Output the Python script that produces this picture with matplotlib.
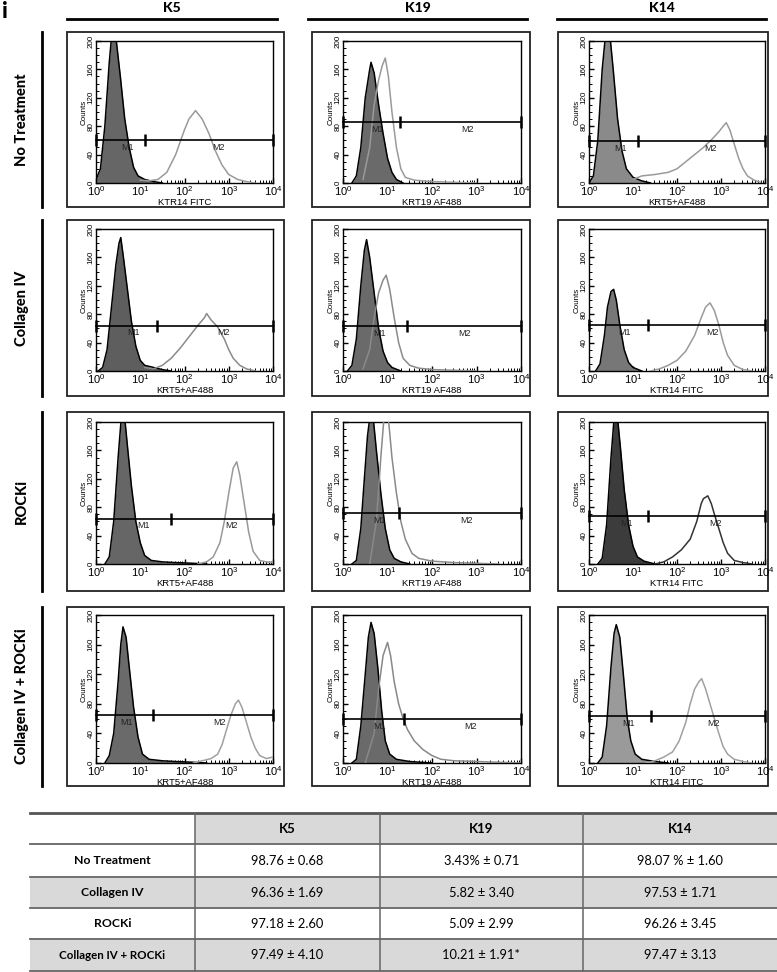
import matplotlib
matplotlib.use("Agg")
import matplotlib.pyplot as plt
import numpy as np
from matplotlib.patches import Rectangle
from matplotlib.ticker import FixedLocator, NullFormatter, LogLocator

plt.rcParams["mathtext.fontset"] = "custom"
plt.rcParams["mathtext.rm"] = "Liberation Sans"
plt.rcParams["mathtext.it"] = "Liberation Sans"

# ---------------- data ----------------
col_titles = ["K5", "K19", "K14"]
row_titles = ["No Treatment", "Collagen IV", "ROCKi", "Collagen IV + ROCKi"]
x_labels = [["KTR14 FITC", "KRT19 AF488", "KRT5+AF488"],
            ["KRT5+AF488", "KRT19 AF488", "KTR14 FITC"],
            ["KRT5+AF488", "KRT19 AF488", "KTR14 FITC"],
            ["KRT5+AF488", "KRT19 AF488", "KTR14 FITC"]]

# gate level (counts), end of M1 (log10), label positions (log10)
gate_level = [[60, 86, 59], [64, 63, 65], [64, 72, 68], [65, 59, 64]]
gate_m1_end = [[1.10, 1.29, 1.11], [1.38, 1.44, 1.34], [1.69, 1.26, 1.35], [1.28, 1.36, 1.40]]
label_m1 = [[0.72, 0.77, 0.72], [0.84, 0.83, 0.80], [1.07, 0.83, 0.85], [0.70, 0.82, 0.90]]
label_m2 = [[2.76, 2.80, 2.77], [2.88, 2.74, 2.80], [3.07, 2.78, 2.87], [2.78, 2.87, 2.83]]

# isotype (filled) histograms: log10 intensity, counts
iso_nt_k5_x = [0, 0.1, 0.2, 0.3, 0.35, 0.45, 0.55, 0.65, 0.75, 0.85, 0.95, 1.1, 1.3, 1.5]
iso_nt_k5_y = [5, 20, 80, 170, 205, 205, 150, 90, 50, 22, 10, 5, 2, 0]
iso_nt_k19_x = [0.2, 0.3, 0.4, 0.5, 0.6, 0.63, 0.7, 0.8, 0.9, 1.0, 1.1, 1.2, 1.35]
iso_nt_k19_y = [0, 10, 50, 120, 160, 170, 155, 110, 70, 35, 15, 5, 0]
iso_nt_k14_x = [0, 0.1, 0.2, 0.3, 0.37, 0.48, 0.55, 0.65, 0.75, 0.85, 1.0, 1.2, 1.4]
iso_nt_k14_y = [0, 10, 60, 160, 205, 205, 160, 90, 45, 20, 8, 3, 0]
iso_col_k5_x = [0.05, 0.15, 0.25, 0.35, 0.45, 0.52, 0.56, 0.62, 0.7, 0.8, 0.9, 1.0, 1.1, 1.3, 1.5, 1.7]
iso_col_k5_y = [0, 5, 30, 90, 150, 180, 188, 160, 120, 70, 35, 15, 8, 5, 2, 0]
iso_col_k19_x = [0.1, 0.2, 0.3, 0.4, 0.48, 0.53, 0.6, 0.7, 0.8, 0.9, 1.0, 1.1, 1.3]
iso_col_k19_y = [0, 8, 45, 120, 170, 185, 160, 110, 60, 28, 12, 5, 0]
iso_col_k14_x = [0.15, 0.25, 0.35, 0.42, 0.5, 0.56, 0.62, 0.7, 0.8, 0.9, 1.0, 1.2]
iso_col_k14_y = [0, 10, 50, 90, 112, 115, 100, 65, 30, 12, 5, 0]
iso_rock_k5_x = [0.2, 0.3, 0.4, 0.5, 0.57, 0.65, 0.72, 0.8, 0.9, 1.0, 1.1, 1.25, 1.5, 1.8, 2.2, 2.5]
iso_rock_k5_y = [0, 10, 60, 150, 205, 205, 160, 110, 60, 30, 12, 5, 3, 2, 1, 0]
iso_rock_k19_x = [0.2, 0.3, 0.4, 0.48, 0.55, 0.6, 0.68, 0.75, 0.85, 0.95, 1.05, 1.15, 1.3, 1.5]
iso_rock_k19_y = [0, 5, 50, 120, 180, 205, 205, 160, 100, 50, 20, 8, 3, 0]
iso_rock_k14_x = [0.2, 0.3, 0.4, 0.5, 0.57, 0.65, 0.72, 0.8, 0.9, 1.0, 1.1, 1.25, 1.5]
iso_rock_k14_y = [0, 8, 55, 150, 205, 205, 160, 105, 55, 25, 10, 4, 0]
iso_both_k5_x = [0.2, 0.3, 0.4, 0.5, 0.56, 0.61, 0.68, 0.75, 0.85, 0.95, 1.05, 1.2, 1.5, 1.8, 2.2, 2.5]
iso_both_k5_y = [0, 10, 40, 110, 160, 184, 170, 130, 75, 35, 12, 5, 3, 2, 1, 0]
iso_both_k19_x = [0.2, 0.3, 0.4, 0.5, 0.57, 0.63, 0.7, 0.78, 0.87, 0.95, 1.05, 1.2, 1.5, 2.0]
iso_both_k19_y = [0, 5, 50, 120, 170, 190, 175, 130, 70, 30, 12, 5, 2, 0]
iso_both_k14_x = [0.2, 0.3, 0.4, 0.5, 0.57, 0.62, 0.7, 0.78, 0.87, 0.95, 1.05, 1.2, 1.5, 1.8]
iso_both_k14_y = [0, 8, 50, 130, 175, 187, 170, 120, 60, 30, 12, 5, 2, 0]

# stained (open) histograms
stn_nt_k5_x = [1.0, 1.2, 1.4, 1.6, 1.8, 2.0, 2.1, 2.25, 2.4, 2.55, 2.7, 2.85, 3.0, 3.2, 3.4, 3.6]
stn_nt_k5_y = [4, 3, 5, 15, 40, 75, 90, 102, 90, 70, 45, 25, 12, 5, 2, 0]
stn_nt_k19_x = [0.45, 0.6, 0.7, 0.8, 0.88, 0.95, 1.02, 1.1, 1.2, 1.3, 1.4, 1.6, 2.0, 2.5, 3.0]
stn_nt_k19_y = [5, 50, 110, 145, 165, 176, 150, 100, 50, 20, 8, 4, 2, 1, 0]
stn_nt_k14_x = [1.0, 1.2, 1.5, 1.8, 2.0, 2.2, 2.4, 2.6, 2.8, 2.95, 3.05, 3.12, 3.2, 3.3, 3.4, 3.5, 3.6, 3.75, 3.9]
stn_nt_k14_y = [5, 10, 12, 15, 20, 30, 40, 50, 62, 72, 80, 85, 75, 55, 35, 20, 10, 4, 1]
stn_col_k5_x = [1.1, 1.3, 1.5, 1.7, 1.9, 2.1, 2.3, 2.45, 2.5, 2.6, 2.75, 2.9, 3.0, 3.1, 3.25, 3.4, 3.6]
stn_col_k5_y = [5, 3, 8, 18, 32, 48, 64, 75, 81, 72, 62, 45, 30, 18, 8, 3, 0]
stn_col_k19_x = [0.45, 0.6, 0.7, 0.8, 0.9, 0.97, 1.05, 1.15, 1.25, 1.35, 1.5, 1.7, 2.0, 2.5, 3.0]
stn_col_k19_y = [3, 30, 75, 110, 128, 135, 115, 75, 40, 18, 8, 4, 2, 1, 0]
stn_col_k14_x = [1.4, 1.6, 1.8, 2.0, 2.2, 2.4, 2.55, 2.65, 2.75, 2.85, 2.95, 3.05, 3.15, 3.3, 3.5, 3.7]
stn_col_k14_y = [0, 3, 8, 15, 28, 50, 75, 90, 96, 85, 65, 40, 22, 8, 2, 0]
stn_rock_k5_x = [2.3, 2.5, 2.65, 2.8, 2.9, 3.0, 3.1, 3.18, 3.25, 3.35, 3.45, 3.55, 3.7, 3.85, 4.0]
stn_rock_k5_y = [0, 3, 10, 30, 60, 100, 135, 144, 125, 85, 45, 18, 5, 3, 2]
stn_rock_k19_x = [0.6, 0.75, 0.85, 0.92, 1.02, 1.1, 1.2, 1.3, 1.4, 1.55, 1.7, 2.0, 2.5, 3.0, 3.5]
stn_rock_k19_y = [0, 60, 150, 205, 205, 150, 100, 60, 35, 15, 8, 4, 2, 1, 0]
stn_rock_k14_x = [1.5, 1.7, 1.9, 2.1, 2.3, 2.45, 2.55, 2.6, 2.7, 2.78, 2.85, 2.95, 3.05, 3.15, 3.3, 3.5, 3.7]
stn_rock_k14_y = [0, 3, 10, 20, 35, 60, 85, 92, 96, 85, 70, 50, 30, 15, 5, 2, 0]
stn_both_k5_x = [2.2, 2.4, 2.6, 2.75, 2.85, 2.95, 3.05, 3.15, 3.22, 3.3, 3.4, 3.5, 3.6, 3.7, 3.85, 4.0]
stn_both_k5_y = [0, 3, 6, 12, 25, 45, 65, 80, 85, 75, 55, 35, 20, 10, 6, 8]
stn_both_k19_x = [0.5, 0.7, 0.8, 0.9, 1.0, 1.07, 1.15, 1.25, 1.35, 1.45, 1.6, 1.8, 2.0, 2.2, 2.5, 3.0, 3.5, 4.0]
stn_both_k19_y = [0, 40, 100, 145, 163, 145, 110, 80, 60, 45, 30, 18, 10, 5, 3, 2, 1, 0]
stn_both_k14_x = [1.3, 1.5, 1.7, 1.9, 2.05, 2.2, 2.3, 2.4, 2.5, 2.56, 2.65, 2.75, 2.85, 2.95, 3.05, 3.15, 3.3, 3.5, 3.7]
stn_both_k14_y = [0, 3, 8, 15, 30, 55, 80, 100, 110, 114, 100, 80, 60, 40, 22, 12, 5, 2, 0]

iso_x = [[iso_nt_k5_x, iso_nt_k19_x, iso_nt_k14_x], [iso_col_k5_x, iso_col_k19_x, iso_col_k14_x],
         [iso_rock_k5_x, iso_rock_k19_x, iso_rock_k14_x], [iso_both_k5_x, iso_both_k19_x, iso_both_k14_x]]
iso_y = [[iso_nt_k5_y, iso_nt_k19_y, iso_nt_k14_y], [iso_col_k5_y, iso_col_k19_y, iso_col_k14_y],
         [iso_rock_k5_y, iso_rock_k19_y, iso_rock_k14_y], [iso_both_k5_y, iso_both_k19_y, iso_both_k14_y]]
stn_x = [[stn_nt_k5_x, stn_nt_k19_x, stn_nt_k14_x], [stn_col_k5_x, stn_col_k19_x, stn_col_k14_x],
         [stn_rock_k5_x, stn_rock_k19_x, stn_rock_k14_x], [stn_both_k5_x, stn_both_k19_x, stn_both_k14_x]]
stn_y = [[stn_nt_k5_y, stn_nt_k19_y, stn_nt_k14_y], [stn_col_k5_y, stn_col_k19_y, stn_col_k14_y],
         [stn_rock_k5_y, stn_rock_k19_y, stn_rock_k14_y], [stn_both_k5_y, stn_both_k19_y, stn_both_k14_y]]

# table
table_cols = ["K5", "K19", "K14"]
table_rows = ["No Treatment", "Collagen IV", "ROCKi", "Collagen IV + ROCKi"]
table_k5 = ["98.76 ± 0.68", "96.36 ± 1.69", "97.18 ± 2.60", "97.49 ± 4.10"]
table_k19 = ["3.43% ± 0.71", "5.82 ± 3.40", "5.09 ± 2.99", "10.21 ± 1.91*"]
table_k14 = ["98.07 % ± 1.60", "97.53 ± 1.71", "96.26 ± 3.45", "97.47 ± 3.13"]

# ---------------- styling / layout ----------------
W, H = 777, 972
fill_colors = [["#666666", "#6a6a6a", "#8a8a8a"],
               ["#5e5e5e", "#6a6a6a", "#777777"],
               ["#666666", "#6e6e6e", "#3c3c3c"],
               ["#6a6a6a", "#6a6a6a", "#9a9a9a"]]
open_colors = [["#9a9a9a", "#9a9a9a", "#9a9a9a"],
               ["#8a8a8a", "#8a8a8a", "#9a9a9a"],
               ["#999999", "#8a8a8a", "#333333"],
               ["#a0a0a0", "#888888", "#a0a0a0"]]

col_inner = [(96, 273), (343, 521), (589, 765)]
row_inner = [(41, 183), (229, 371), (422, 564), (615, 763)]
col_outer = [(67, 284), (312, 530), (558, 768)]
row_outer = [(32, 207), (220, 396), (412, 591), (607, 786)]

fig = plt.figure(figsize=(W / 100, H / 100), dpi=100)
ov = fig.add_axes([0, 0, 1, 1])
ov.set_xlim(0, W)
ov.set_ylim(H, 0)
ov.axis("off")

ff = "Lato"
ov.text(2, 11, "i", fontsize=16, fontweight="black", family=ff, va="center", ha="left")

# column titles
hdr_lines = [(67, 277), (308, 527), (557, 766)]
for (a, b), t in zip(hdr_lines, col_titles):
    ov.text((a + b) / 2, 8, t, fontsize=10, fontweight="black", family=ff, ha="center", va="center")
    ov.plot([a, b], [19.5, 19.5], color="black", lw=2.0)

# row titles
for (a, b), t in zip(row_outer, row_titles):
    ov.plot([42, 42], [a, b], color="black", lw=2.0)
    ov.text(22, (a + b) / 2, t, fontsize=10.5, fontweight="black", family=ff, rotation=90,
            ha="center", va="center")

# outer boxes
for (ya, yb) in row_outer:
    for (xa, xb) in col_outer:
        ov.add_patch(Rectangle((xa, ya), xb - xa, yb - ya, fill=False, ec="#222222", lw=1.3))

# panels
for r in range(4):
    for c in range(3):
        xa, xb = col_inner[c]
        ya, yb = row_inner[r]
        ax = fig.add_axes([xa / W, 1 - yb / H, (xb - xa) / W, (yb - ya) / H])
        ax.set_xscale("log")
        ax.set_xlim(1, 1e4)
        ax.set_ylim(0, 200)
        fx = 10 ** np.array(iso_x[r][c])
        fy = np.array(iso_y[r][c])
        ax.fill_between(fx, fy, 0, color=fill_colors[r][c], lw=0, zorder=2)
        ax.plot(fx, fy, color="black", lw=1.1, zorder=3)
        sx = 10 ** np.array(stn_x[r][c])
        sy = np.array(stn_y[r][c])
        ax.plot(sx, sy, color=open_colors[r][c], lw=1.1, zorder=3)
        # gate markers
        g = gate_level[r][c]
        m1 = 10 ** gate_m1_end[r][c]
        ax.plot([1, 1e4], [g, g], color="black", lw=1.2, zorder=4, clip_on=False)
        ax.plot([1, m1, 1e4], [g, g, g], ls="none", marker="|", ms=9, mew=1.8,
                color="black", zorder=4, clip_on=False)
        ax.text(10 ** label_m1[r][c], g - 4, "M1", fontsize=6.5, ha="center", va="top",
                family="Liberation Sans", color="#222222", zorder=5)
        ax.text(10 ** label_m2[r][c], g - 4, "M2", fontsize=6.5, ha="center", va="top",
                family="Liberation Sans", color="#222222", zorder=5)
        # ticks
        ax.set_yticks([0, 40, 80, 120, 160, 200])
        ax.yaxis.set_minor_locator(FixedLocator(np.arange(0, 201, 10)))
        ax.set_yticklabels(["0", "40", "80", "120", "160", "200"], rotation=90,
                           va="center", fontsize=5.8, family="Liberation Sans")
        ax.set_xticks([1, 10, 100, 1000, 10000])
        ax.set_xticklabels([r"$10^{0}$", r"$10^{1}$", r"$10^{2}$", r"$10^{3}$", r"$10^{4}$"],
                           fontsize=8)
        ax.xaxis.set_minor_locator(LogLocator(base=10, subs=np.arange(2, 10), numticks=20))
        ax.xaxis.set_minor_formatter(NullFormatter())
        ax.tick_params(axis="both", which="major", direction="in", length=3.5, width=1.0,
                       pad=1.2, colors="black")
        ax.tick_params(axis="both", which="minor", direction="in", length=2.2, width=0.7)
        for sp in ax.spines.values():
            sp.set_linewidth(1.0)
        ax.text(-0.065, 100, "Counts", rotation=90, fontsize=5.8, ha="center", va="center",
                family="Liberation Sans", transform=ax.get_yaxis_transform())
        ax.set_xlabel(x_labels[r][c], fontsize=6.8, family="Liberation Sans", labelpad=-0.5)

# table
tx = [30, 195, 380, 583, 777]
ty = [813, 844, 877, 908, 939, 971]
gray = "#d9d9d9"
ov.add_patch(Rectangle((tx[1], ty[0]), tx[4] - tx[1], ty[1] - ty[0], color=gray, lw=0))
for i in (1, 3):
    ov.add_patch(Rectangle((tx[0], ty[i + 1]), tx[4] - tx[0], ty[i + 2] - ty[i + 1], color=gray, lw=0))
ov.plot([tx[0], tx[4]], [ty[0], ty[0]], color="#555555", lw=2.0)
for yv in ty[1:]:
    ov.plot([tx[0], tx[4]], [yv, yv], color="#666666", lw=1.3)
for xv in tx[1:4]:
    ov.plot([xv, xv], [ty[0], ty[5]], color="#666666", lw=1.1)
for j, t in enumerate(table_cols):
    ov.text((tx[j + 1] + tx[j + 2]) / 2, (ty[0] + ty[1]) / 2, t, fontsize=9.5, fontweight="bold",
            family=ff, ha="center", va="center")
cols_vals = [table_k5, table_k19, table_k14]
for i, rl in enumerate(table_rows):
    yc = (ty[i + 1] + ty[i + 2]) / 2
    ov.text((tx[0] + tx[1]) / 2, yc, rl, fontsize=8.3 if len(rl) > 15 else 8.8, fontweight="bold",
            family=ff, ha="center", va="center")
    for j in range(3):
        ov.text((tx[j + 1] + tx[j + 2]) / 2, yc, cols_vals[j][i], fontsize=9.3, family=ff,
                ha="center", va="center")

fig.savefig("out.png", dpi=100)
